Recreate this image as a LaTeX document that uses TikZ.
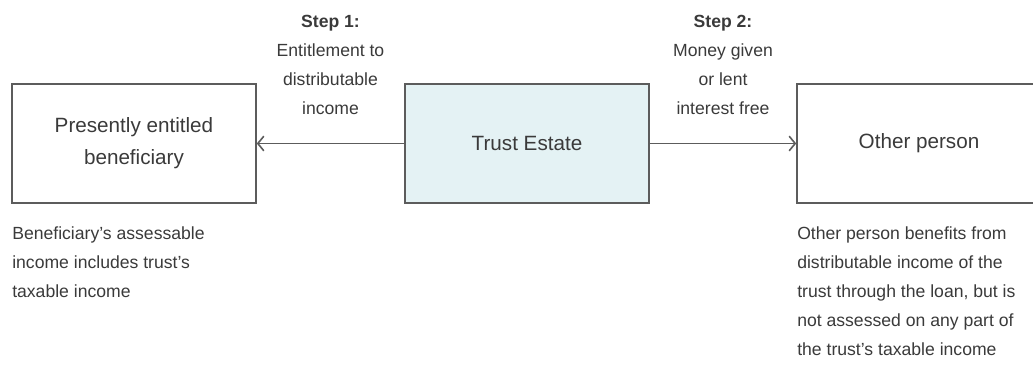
\documentclass[tikz,border=0pt]{standalone}
\usepackage{fontspec}
\setmainfont{Liberation Sans}
\usetikzlibrary{arrows.meta}
\definecolor{inkgray}{HTML}{3A3A3A}
\definecolor{edgegray}{HTML}{5C5C5C}
\definecolor{trustfill}{HTML}{E4F2F4}

\begin{document}
\begin{tikzpicture}[x=0.75pt, y=-0.75pt,
	party/.style={draw=edgegray, line width=1.2pt, minimum width=183pt, minimum height=89pt,
		align=center, text=inkgray, font=\fontsize{15.5}{24}\selectfont},
	link/.style={draw=edgegray, line width=1.2pt, -{Straight Barb[length=4.5pt,width=11pt,line width=1.2pt]}},
	steptext/.style={align=center, text=inkgray, inner sep=0pt, font=\fontsize{13.2}{21.75}\selectfont},
	note/.style={align=left, text=inkgray, inner sep=0pt, font=\fontsize{13.2}{21.75}\selectfont}]
			%%%%% START %%%%%
			
			\clip (0, 0) rectangle (1033, 367);
			
			\node[party] (beneficiary) at (134, 143.5) {Presently entitled\\beneficiary};
			\node[party, fill=trustfill] (trust) at (527, 143.5) {Trust Estate};
			\node[party] (other) at (919, 143.5) {Other person};
			
			\draw[link] (trust) -- (beneficiary);
			\draw[link] (trust) -- (other);
			
			\node[steptext, anchor=north] (step1) at (330.5, 15) {\textbf{Step 1:}\\Entitlement to\\distributable\\income};
			\node[steptext, anchor=north] (step2) at (723, 15) {\textbf{Step 2:}\\Money given\\or lent\\interest free};
			
			\node[note, anchor=north west] (benefnote) at (12, 226) {Beneficiary's assessable\\income includes trust's\\taxable income};
			\node[note, anchor=north west] (othernote) at (797, 226) {Other person benefits from\\distributable income of the\\trust through the loan, but is\\not assessed on any part of\\the trust's taxable income};
			
			%%%%% END %%%%%
		\end{tikzpicture}
\end{document}
